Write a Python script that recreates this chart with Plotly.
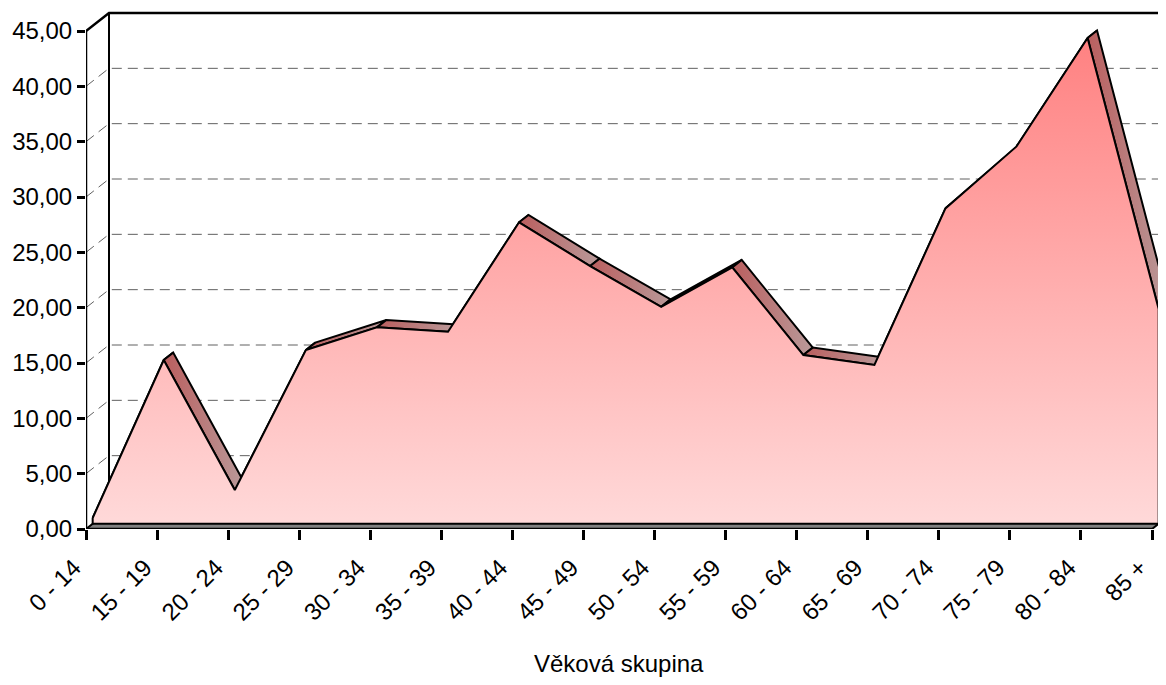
import plotly.graph_objects as go

# ---------------- data ----------------
categories = ["0 - 14", "15 - 19", "20 - 24", "25 - 29", "30 - 34", "35 - 39",
              "40 - 44", "45 - 49", "50 - 54", "55 - 59", "60 - 64", "65 - 69",
              "70 - 74", "75 - 79", "80 - 84", "85 +"]
values = [0.52, 14.8, 3.05, 15.7, 17.75, 17.35, 27.24, 23.29, 19.61, 23.17,
          15.25, 14.35, 28.5, 34.1, 43.9, 19.4]
y_ticks = [0, 5, 10, 15, 20, 25, 30, 35, 40, 45]
x_title = "Věková skupina"

# ---------------- geometry (pseudo-3D) ----------------
OFF = 8                          # default page body margin
W, H = 1166 - 2 * OFF, 685 - 2 * OFF
ML = 86 - OFF                    # front value axis position
Y0 = 529 - OFF                   # zero line position
MB = H - Y0
n = len(categories)
unit_x = 1066 / (n - 1)          # px per category step
unit_y = 498 / y_ticks[-1]       # px per value unit
x_max = (W - ML) / unit_x
y_max = Y0 / unit_y
DX = 23 / unit_x                 # depth offset in data units
DY = 18 / unit_y
F1, F2 = 0.29, 0.70              # front / back of the series ribbon
top = y_ticks[-1]
last = n - 1

FONT = "Liberation Sans, Arial, sans-serif"
fig = go.Figure()

def add(x, y, **kw):
    d = dict(x=x, y=y, mode="lines", hoverinfo="skip", showlegend=False)
    d.update(kw)
    fig.add_trace(go.Scatter(**d))

# back wall grid lines + side wall diagonals
gx, gy = [], []
for t in y_ticks[1:-1]:
    gx += [0, DX, x_max + 1, None]
    gy += [t, t + DY, t + DY, None]
add(gx, gy, line=dict(color="#606060", width=1, dash="10px,6px"))

# walls frame
add([0, DX, x_max + 1], [top, top + DY, top + DY], line=dict(color="black", width=2.5))
add([DX, DX], [DY, top + DY], line=dict(color="black", width=2))

# floor
add([0, last, last + DX, DX, 0], [0, 0, DY, DY, 0], fill="toself",
    fillcolor="#808080", line=dict(color="black", width=2))

# ribbon (top surface of the area)
quads = []
for i in range(n - 1):
    v0, v1 = values[i], values[i + 1]
    visible = (v1 - v0) * unit_y / unit_x < DY * unit_y / (DX * unit_x)
    quads.append((visible, i, v0, v1))
quads.sort(key=lambda q: q[0])
for visible, i, v0, v1 in quads:
    xs = [i + F1 * DX, i + 1 + F1 * DX, i + 1 + F2 * DX, i + F2 * DX, i + F1 * DX]
    ys = [v0 + F1 * DY, v1 + F1 * DY, v1 + F2 * DY, v0 + F2 * DY, v0 + F1 * DY]
    add(xs, ys, fill="toself",
        fillgradient=dict(type="horizontal", start=i + F1 * DX, stop=i + 1 + F2 * DX,
                          colorscale=[[0, "#BA5E5E"], [1, "#B99A9A"]]),
        line=dict(color="black", width=2))

# right side face of the area
vl = values[-1]
add([last + F1 * DX, last + F1 * DX, last + F2 * DX, last + F2 * DX, last + F1 * DX],
    [F1 * DY, vl + F1 * DY, vl + F2 * DY, F2 * DY, F1 * DY], fill="toself",
    fillgradient=dict(type="vertical", start=0, stop=vl + F2 * DY,
                      colorscale=[[0, "#7E7272"], [1, "#7A4646"]]),
    line=dict(color="black", width=2))

# front face of the area
fx = [i + F1 * DX for i in range(n)] + [last + F1 * DX, F1 * DX, F1 * DX]
fy = [v + F1 * DY for v in values] + [F1 * DY, F1 * DY, values[0] + F1 * DY]
add(fx, fy, fill="toself",
    fillgradient=dict(type="vertical", start=0, stop=top,
                      colorscale=[[0, "#FFDADA"], [1, "#FF8080"]]),
    line=dict(color="black", width=2))

# front axis lines
add([0, 0], [0, top], line=dict(color="black", width=2.5))
add([0, last], [0, 0], line=dict(color="black", width=2.5))

fig.add_annotation(x=last / 2, y=-(663 - 529) / Y0, xref="x", yref="paper",
                   text=x_title, showarrow=False, yanchor="middle",
                   font=dict(family=FONT, size=24, color="black"))

fig.update_layout(
    width=W, height=H,
    margin=dict(l=ML, r=0, t=0, b=MB, pad=0),
    plot_bgcolor="white", paper_bgcolor="white",
    separators=", ",
    font=dict(family=FONT, size=23, color="black"),
    xaxis=dict(range=[0, x_max], tickvals=list(range(n)), ticktext=categories,
               tickangle=-45, ticks="outside", ticklen=10, tickwidth=2.5,
               tickcolor="black", showgrid=False, zeroline=False, showline=False,
               ticklabelshift=-12, ticklabelstandoff=4,
               tickfont=dict(family=FONT, size=24), fixedrange=True),
    yaxis=dict(range=[0, y_max], tickvals=y_ticks, tickformat=".2f",
               ticks="outside", ticklen=8, tickwidth=2.5, tickcolor="black",
               showgrid=False, zeroline=False, showline=False,
               tickfont=dict(family=FONT, size=24), fixedrange=True),
)

fig.write_html("out.html")
